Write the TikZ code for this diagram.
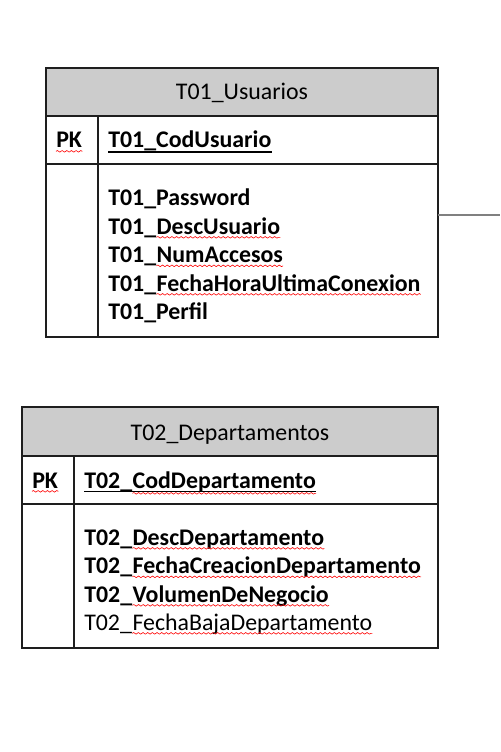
\documentclass[tikz,border=0pt]{standalone}
\usepackage{fontspec}
\setmainfont{Carlito}
\usepackage{xcolor}
\usepackage{tikz}
\usetikzlibrary{decorations.pathmorphing}

\definecolor{hdrgray}{RGB}{204,204,204}
\definecolor{linedark}{RGB}{30,30,30}
\definecolor{relgray}{RGB}{128,128,128}
\newcommand{\tabfont}{\fontsize{17.9pt}{21pt}\selectfont}

\begin{document}
\begin{tikzpicture}[x=0.75pt, y=-0.75pt,
    box/.style={draw=linedark, line width=1.5pt},
    hdr/.style={box, fill=hdrgray},
    plain/.style={inner sep=0pt, anchor=base west, font=\tabfont},
    field/.style={plain, font=\tabfont\bfseries},
    ttl/.style={inner sep=0pt, anchor=base, font=\tabfont},
    keyline/.style={line width=1.1pt},
    spell/.style={draw=red, line width=0.45pt, decorate,
        decoration={snake, amplitude=0.6pt, segment length=3.5pt}},
    rel/.style={draw=relgray, line width=1.2pt}]
    \useasboundingbox (0,0) rectangle (500,752);

    % T01_Usuarios
    \draw[hdr] (46,68) rectangle (438,116);
    \draw[box] (46,116) rectangle (438,337);
    \draw[box] (46,164) -- (438,164);
    \draw[box] (98,116) -- (98,337);
    \node[ttl] (t1name) at (242,100) {T01\_Usuarios};
    \node[field] (t1pk) at (56,148) {PK};
    \node[field] (t1key) at (108,148) {T01\_CodUsuario};
    \node[field] (t1a) at (108,205.5) {T01\_Password};
    \node[field] (t1b) at (108,234) {T01\_};
    \node[field] (t1bw) at (t1b.base east) {DescUsuario};
    \node[field] (t1c) at (108,262.5) {T01\_};
    \node[field] (t1cw) at (t1c.base east) {NumAccesos};
    \node[field] (t1d) at (108,291) {T01\_};
    \node[field] (t1dw) at (t1d.base east) {FechaHoraUltimaConexion};
    \node[field] (t1e) at (108,319.5) {T01\_Perfil};
    \draw[keyline] ([yshift=-3pt]t1key.base west) -- ([yshift=-3pt]t1key.base east);
    % spell-check waves
    \draw[spell] ([yshift=-2.5pt]t1pk.base west) -- ([yshift=-2.5pt]t1pk.base east);
    \draw[spell] ([yshift=-2.5pt]t1bw.base west) -- ([yshift=-2.5pt]t1bw.base east);
    \draw[spell] ([yshift=-2.5pt]t1cw.base west) -- ([yshift=-2.5pt]t1cw.base east);
    \draw[spell] ([yshift=-2.5pt]t1dw.base west) -- ([yshift=-2.5pt]t1dw.base east);

    % Relationship line going off to the right
    \coordinate (t1side) at (438,215);
    \coordinate (relend) at (500,215);
    \draw[rel] (t1side) -- (relend);

    % T02_Departamentos
    \draw[hdr] (22,407) rectangle (438,456);
    \draw[box] (22,456) rectangle (438,648);
    \draw[box] (22,504) -- (438,504);
    \draw[box] (74,456) -- (74,648);
    \node[ttl] (t2name) at (230,440) {T02\_Departamentos};
    \node[field] (t2pk) at (32,488) {PK};
    \node[field] (t2key) at (84,488) {T02\_};
    \node[field] (t2keyw) at (t2key.base east) {CodDepartamento};
    \node[field] (t2a) at (84,545) {T02\_};
    \node[field] (t2aw) at (t2a.base east) {DescDepartamento};
    \node[field] (t2b) at (84,573.5) {T02\_};
    \node[field] (t2bw) at (t2b.base east) {FechaCreacionDepartamento};
    \node[field] (t2c) at (84,602) {T02\_};
    \node[field] (t2cw) at (t2c.base east) {VolumenDeNegocio};
    \node[plain] (t2d) at (84,630) {T02\_};
    \node[plain] (t2dw) at (t2d.base east) {FechaBajaDepartamento};
    \draw[keyline] ([yshift=-2.5pt]t2key.base west) -- ([yshift=-2.5pt]t2keyw.base east);
    % spell-check waves
    \draw[spell] ([yshift=-2.5pt]t2pk.base west) -- ([yshift=-2.5pt]t2pk.base east);
    \draw[spell] ([yshift=-4pt]t2keyw.base west) -- ([yshift=-4pt]t2keyw.base east);
    \draw[spell] ([yshift=-2.5pt]t2aw.base west) -- ([yshift=-2.5pt]t2aw.base east);
    \draw[spell] ([yshift=-2.5pt]t2bw.base west) -- ([yshift=-2.5pt]t2bw.base east);
    \draw[spell] ([yshift=-2.5pt]t2cw.base west) -- ([yshift=-2.5pt]t2cw.base east);
    \draw[spell] ([yshift=-2.5pt]t2dw.base west) -- ([yshift=-2.5pt]t2dw.base east);
\end{tikzpicture}
\end{document}
